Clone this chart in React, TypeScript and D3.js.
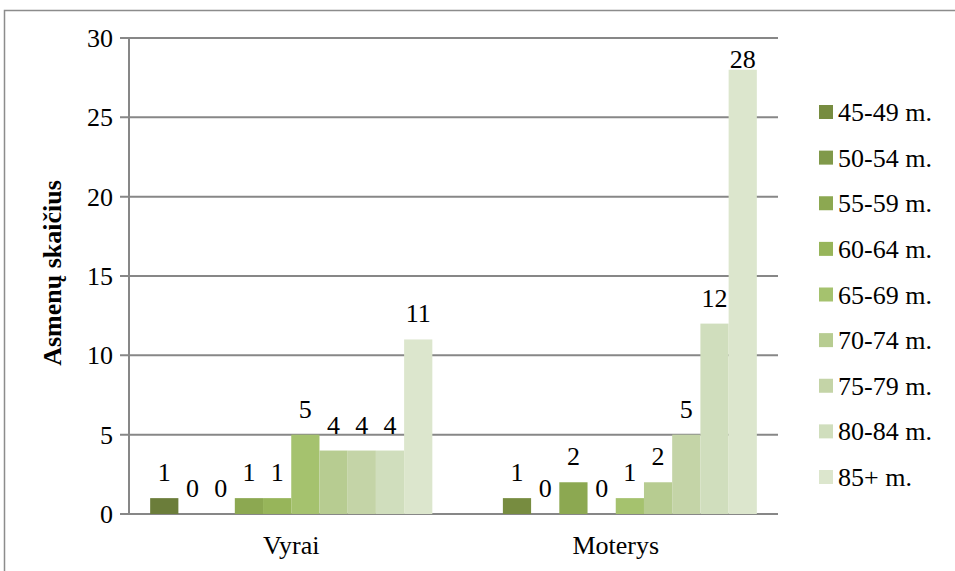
import React from "react";
import * as d3 from "d3";

const categories = ["Vyrai", "Moterys"];
const seriesNames = ["", "45-49 m.", "50-54 m.", "55-59 m.", "60-64 m.", "65-69 m.", "70-74 m.", "75-79 m.", "80-84 m.", "85+ m."];
const vyraiValues: (number | null)[] = [1, 0, 0, 1, 1, 5, 4, 4, 4, 11];
const moterysValues: (number | null)[] = [null, 1, 0, 2, 0, 1, 2, 5, 12, 28];
const seriesColors = ["#6b7d3a", "#778c40", "#80994a", "#8ca851", "#97b55a", "#a5c26e", "#b7cc91", "#c4d4a7", "#d0debd", "#dce6cd"];
const yTicks = [0, 5, 10, 15, 20, 25, 30];
const yTitle = "Asmenų skaičius";

const W = 955;
const H = 571;
const plot = { left: 129, right: 778, top: 38, bottom: 514 };
const FONT = '"Liberation Serif", "Times New Roman", "DejaVu Serif", serif';
const GRID = "#878787";

export default function App() {
  const valuesByCat = [vyraiValues, moterysValues];
  const y = d3.scaleLinear().domain([0, 30]).range([plot.bottom, plot.top]);
  const x0 = d3.scaleBand<string>().domain(categories).range([plot.left, plot.right]).padding(0);
  const x1 = d3
    .scaleBand<string>()
    .domain(seriesNames.map((_, i) => String(i)))
    .range([0, x0.bandwidth()])
    .paddingInner(0)
    .paddingOuter(0.75);

  const legendItems = seriesNames.map((n, i) => ({ n, i })).filter((d) => d.n !== "");
  const legendY = d3.scalePoint<number>().domain(legendItems.map((d) => d.i)).range([112, 477]);
  const tf = { fontFamily: FONT };

  return (
    <svg
      width={W}
      height={H}
      style={{ position: "absolute", left: 0, top: 0, background: "#fff", fontFamily: FONT }}
    >
      <rect x={4.5} y={10.5} width={1200} height={1200} fill="#fff" stroke="#8c8c8c" strokeWidth={1.5} />
      {yTicks.map((t) => (
        <g key={t}>
          <line x1={plot.left - 9} x2={plot.right} y1={y(t)} y2={y(t)} stroke={GRID} strokeWidth={t === 0 ? 2.2 : 2} />
          <text x={113} y={y(t)} dy="0.35em" textAnchor="end" fontSize={26} fill="#000" style={tf}>
            {t}
          </text>
        </g>
      ))}
      <line x1={plot.left} x2={plot.left} y1={plot.top} y2={plot.bottom} stroke={GRID} strokeWidth={2} />
      {categories.map((c, ci) => (
        <g key={c} transform={`translate(${x0(c)},0)`}>
          {valuesByCat[ci].map((v, si) =>
            v === null ? null : (
              <rect
                key={si}
                x={x1(String(si))}
                y={y(v)}
                width={x1.bandwidth()}
                height={plot.bottom - y(v)}
                fill={seriesColors[si]}
              />
            )
          )}
          {valuesByCat[ci].map((v, si) =>
            v === null ? null : (
              <text
                key={"l" + si}
                x={(x1(String(si)) as number) + x1.bandwidth() / 2}
                y={Math.max(y(v) - 17, plot.top + 30)}
                textAnchor="middle"
                fontSize={26}
                fill="#000"
                style={tf}
              >
                {v}
              </text>
            )
          )}
          <text x={x0.bandwidth() / 2} y={554} textAnchor="middle" fontSize={26} fill="#000" style={tf}>
            {c}
          </text>
        </g>
      ))}
      <text
        transform={`translate(61,273) rotate(-90)`}
        textAnchor="middle"
        fontSize={26}
        fontWeight="bold"
        fill="#000"
        style={tf}
      >
        {yTitle}
      </text>
      {legendItems.map((d) => (
        <g key={d.n} transform={`translate(819,${legendY(d.i)})`}>
          <rect x={0} y={-7} width={14} height={14} fill={seriesColors[d.i]} />
          <text x={19} y={0} dy="0.35em" fontSize={26} fill="#000" style={tf}>
            {d.n}
          </text>
        </g>
      ))}
    </svg>
  );
}
